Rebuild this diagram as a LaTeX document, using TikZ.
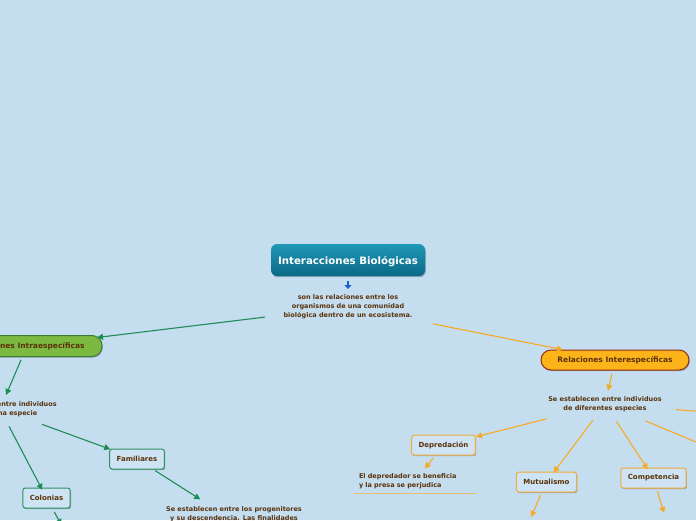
\documentclass[tikz,border=0pt]{standalone}
\usepackage{fontspec}
\setmainfont{DejaVu Sans}
\usetikzlibrary{arrows.meta,shadows}
\definecolor{bgblue}{RGB}{196,222,240}
\definecolor{txtbrown}{RGB}{90,50,10}
\definecolor{gline}{RGB}{30,140,85}
\definecolor{oline}{RGB}{247,170,35}
\definecolor{bline}{RGB}{25,95,210}
\definecolor{boxfill}{RGB}{206,228,244}
\definecolor{gborder}{RGB}{45,145,95}
\definecolor{oborder}{RGB}{242,172,55}
\definecolor{intrafill}{RGB}{124,185,64}
\definecolor{intraborder}{RGB}{62,122,50}
\definecolor{interfill}{RGB}{252,180,26}
\definecolor{interborder}{RGB}{150,42,20}
\definecolor{titletop}{RGB}{30,152,182}
\definecolor{titlebot}{RGB}{10,104,134}
\definecolor{ulinecol}{RGB}{232,190,108}
\tikzset{
  every node/.style={font=\bfseries\fontsize{6.5}{9}\selectfont, text=txtbrown},
  boxshadow/.style={drop shadow={shadow xshift=0.8pt, shadow yshift=-1.2pt, opacity=0.25, fill=black}},
  titlebox/.style={rounded corners=6pt, top color=titletop, bottom color=titlebot,
    minimum width=154pt, minimum height=32pt, text=white, text depth=0pt,
    font=\bfseries\fontsize{10.2}{12}\selectfont, boxshadow},
  desctext/.style={align=center, inner sep=2pt},
  intrabox/.style={draw=intraborder, line width=1pt, fill=intrafill, rounded corners=10pt,
    minimum width=150pt, minimum height=21pt, font=\bfseries\fontsize{7.5}{9}\selectfont, boxshadow},
  interbox/.style={draw=interborder, line width=1pt, fill=interfill, rounded corners=10pt,
    minimum width=148pt, minimum height=20pt, font=\bfseries\fontsize{7.5}{9}\selectfont, boxshadow},
  gbox/.style={draw=gborder, line width=1pt, fill=boxfill, rounded corners=2.5pt,
    minimum height=20pt, inner xsep=7pt, font=\bfseries\fontsize{7}{9}\selectfont, boxshadow},
  obox/.style={draw=oborder, line width=1pt, fill=boxfill, rounded corners=2.5pt,
    minimum height=20pt, inner xsep=7pt, font=\bfseries\fontsize{7}{9}\selectfont, boxshadow},
  gconn/.style={draw=gline, line width=1.1pt, -{Triangle[length=6pt,width=6pt]}},
  oconn/.style={draw=oline, line width=1.1pt, -{Triangle[length=6pt,width=6pt]}},
  bconn/.style={draw=bline, line width=1.5pt, -{Triangle[length=4pt,width=7pt]}},
  uline/.style={draw=ulinecol, line width=1.3pt}
}
\begin{document}
\begin{tikzpicture}[x=1pt,y=-1pt]
\fill[bgblue] (0,0) rectangle (696,520);
\useasboundingbox (0,0) rectangle (696,520);

% centre
\node[titlebox] (title) at (348,260) {Interacciones Biológicas};
\node[desctext] (desc) at (348,307) {son las relaciones entre los\\organismos de una comunidad\\biológica dentro de un ecosistema.};

% intraespecificas
\node[intrabox] (intra) at (27,346) {Relaciones Intraespecíficas};
\node[desctext] (intradesc) at (0,409) {Se establecen entre individuos\\de la misma especie};
\node[gbox] (colonias) at (46.5,498) {Colonias};
\node[gbox] (familiares) at (137,459) {Familiares};
\node[desctext, anchor=north] (famdesc) at (234,504) {Se establecen entre los progenitores\\y su descendencia. Las finalidades};
\coordinate (colout) at (61.5,525);

% interespecificas
\node[interbox] (inter) at (615,360) {Relaciones Interespecíficas};
\node[desctext] (interdesc) at (605,404) {Se establecen entre individuos\\de diferentes especies};
\node[obox] (depred) at (443.5,445) {Depredación};
\node[obox] (mutual) at (546.5,482) {Mutualismo};
\node[obox] (compet) at (653.5,478) {Competencia};
\node[desctext, text width=112pt, align=left, inner xsep=5pt, inner ysep=4.5pt] (depdesc) at (415,481) {El depredador se beneficia\\y la presa se perjudica};
\coordinate (mutout) at (531,517);
\coordinate (compout) at (664,513);
\coordinate (interout1) at (704,411.8);
\coordinate (interout2) at (704,445.3);

% connectors
\draw[bconn, shorten <=21pt, shorten >=18pt] (title.center) -- (desc.center);
\draw[gconn, shorten <=83.6pt, shorten >=70.5pt] (desc.center) -- (intra.center);
\draw[oconn, shorten <=86.7pt, shorten >=53pt] (desc.center) -- (inter.center);

\draw[gconn, shorten <=14.9pt, shorten >=15.3pt] (intra.center) -- (intradesc.center);
\draw[gconn, shorten <=19.7pt, shorten >=9.2pt] (intradesc.center) -- (colonias.center);
\draw[gconn, shorten <=44.6pt, shorten >=28.5pt] (intradesc.center) -- (familiares.center);
\draw[gconn, shorten <=15.9pt] (colonias.center) -- (colout);
\draw[gconn, shorten <=21.6pt, shorten >=40pt] (familiares.center) -- ([yshift=-7pt]famdesc.center);

\draw[oconn, shorten <=14.3pt, shorten >=13.6pt] (inter.center) -- (interdesc.center);
\draw[oconn, shorten <=60.2pt, shorten >=33.5pt] (interdesc.center) -- (depred.center);
\draw[oconn, shorten <=20.2pt, shorten >=11.7pt] (interdesc.center) -- (mutual.center);
\draw[oconn, shorten <=20.8pt, shorten >=10.5pt] (interdesc.center) -- (compet.center);
\draw[oconn, shorten <=71.2pt] (interdesc.center) -- (interout1);
\draw[oconn, shorten <=44pt] (interdesc.center) -- (interout2);

\draw[oconn, shorten <=16.6pt, shorten >=15.8pt] (depred.center) -- (depdesc.center);
\draw[uline] (depdesc.south west) -- (depdesc.south east);
\draw[oconn, shorten <=14.1pt] (mutual.center) -- (mutout);
\draw[oconn, shorten <=13.5pt] (compet.center) -- (compout);
\end{tikzpicture}
\end{document}
